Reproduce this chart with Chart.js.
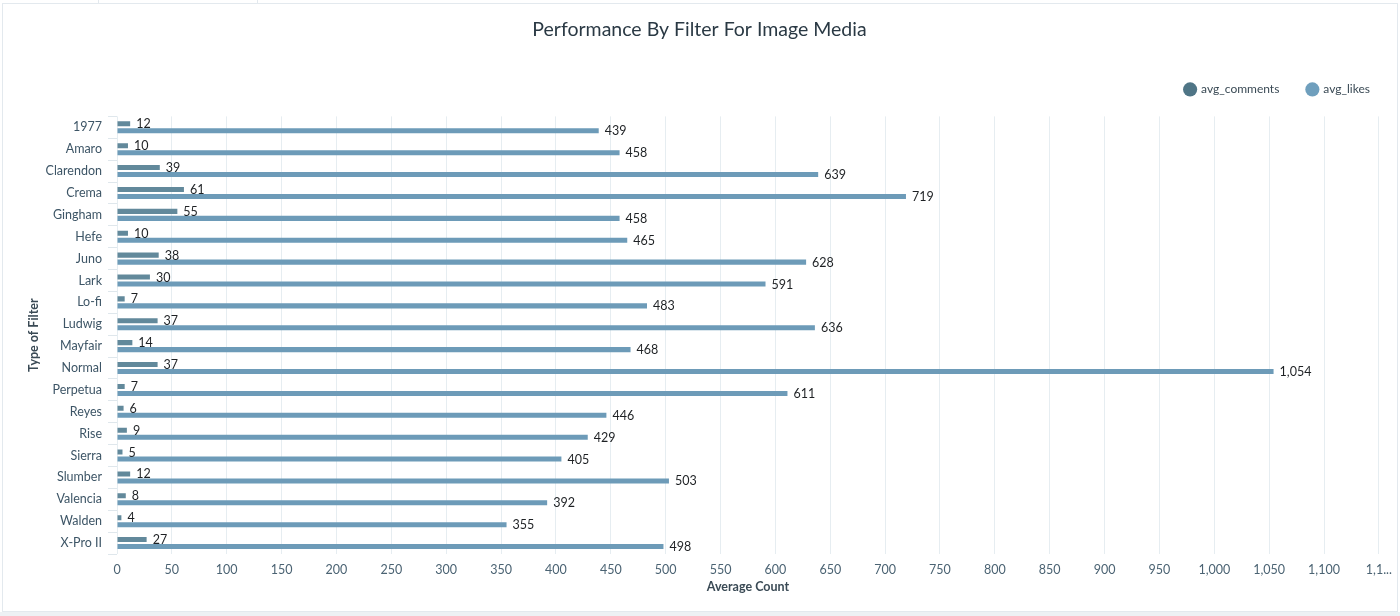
<!DOCTYPE html>
<html>
<head>
<meta charset="utf-8">
<script src="https://cdn.jsdelivr.net/npm/chart.js@4"></script>
<style>
  html, body { margin: 0; padding: 0; background: #ffffff; }
  #wrap { position: relative; width: 1400px; height: 616px; }
  canvas { display: block; }
</style>
</head>
<body>
<div id="wrap"><canvas id="c" width="1400" height="616"></canvas></div>
<script>
const categories = ["1977","Amaro","Clarendon","Crema","Gingham","Hefe","Juno","Lark","Lo-fi","Ludwig","Mayfair","Normal","Perpetua","Reyes","Rise","Sierra","Slumber","Valencia","Walden","X-Pro II"];
const avgComments = [12,10,39,61,55,10,38,30,7,37,14,37,7,6,9,5,12,8,4,27];
const avgLikes = [439,458,639,719,458,465,628,591,483,636,468,1054,611,446,429,405,503,392,355,498];
const seriesNames = ["avg_comments","avg_likes"];
const xTickMax = 1150;
const xTickStep = 50;

const FONT = "Lato, 'Open Sans', sans-serif";

const valueLabels = {
  id: 'valueLabels',
  afterDatasetsDraw(chart) {
    const ctx = chart.ctx;
    ctx.save();
    ctx.font = "12.5px " + FONT;
    ctx.fillStyle = "#1e2124";
    ctx.textAlign = "left";
    ctx.textBaseline = "middle";
    chart.data.datasets.forEach((ds, i) => {
      const meta = chart.getDatasetMeta(i);
      meta.data.forEach((bar, j) => {
        const v = ds.data[j];
        ctx.fillText(v.toLocaleString('en-US'), bar.x + 6, bar.y + 0.5);
      });
    });
    ctx.restore();
  }
};

const frame = {
  id: 'frame',
  beforeDraw(chart) {
    const ctx = chart.ctx;
    ctx.save();
    ctx.fillStyle = "#ffffff";
    ctx.fillRect(0, 0, 1400, 616);
    ctx.strokeStyle = "#e3e9ee";
    ctx.lineWidth = 1;
    ctx.strokeRect(2.5, 3.5, 1395, 608);
    ctx.fillStyle = "#edf1f4";
    ctx.fillRect(0, 612, 1400, 4);
    ctx.beginPath();
    ctx.moveTo(98.5, 0); ctx.lineTo(98.5, 3.5);
    ctx.moveTo(257.5, 0); ctx.lineTo(257.5, 3.5);
    ctx.stroke();
    ctx.restore();
  }
};

const legendFit = {
  id: 'legendFit',
  beforeInit(chart) {
    const orig = chart.legend.fit;
    chart.legend.fit = function () {
      orig.call(this);
      this.height = this.height + 11;
    };
  },
  afterLayout(chart) {
    chart.legend.right = chart.legend.right + 19;
  }
};

new Chart(document.getElementById('c'), {
  type: 'bar',
  data: {
    labels: categories,
    datasets: [
      {
        label: seriesNames[0],
        data: avgComments,
        backgroundColor: "#62899b",
        borderWidth: 0,
        categoryPercentage: 0.64,
        barPercentage: 0.72
      },
      {
        label: seriesNames[1],
        data: avgLikes,
        backgroundColor: "#6d9bb8",
        borderWidth: 0,
        categoryPercentage: 0.64,
        barPercentage: 0.72
      }
    ]
  },
  options: {
    indexAxis: 'y',
    responsive: false,
    animation: false,
    devicePixelRatio: 1,
    layout: { padding: { left: 20, right: 21, top: 0, bottom: 16 } },
    plugins: {
      title: {
        display: true,
        text: "Performance By Filter For Image Media",
        color: "#2a3944",
        font: { family: FONT, size: 19.5, weight: 'normal' },
        padding: { top: 18, bottom: 14 }
      },
      legend: {
        display: true,
        position: 'top',
        align: 'end',
        labels: {
          usePointStyle: true,
          pointStyle: 'circle',
          boxWidth: 10,
          boxHeight: 10,
          padding: 28,
          color: "#3a4a55",
          font: { family: FONT, size: 12 },
          generateLabels(chart) {
            const cols = ["#4f7586", "#6f9fbd"];
            return chart.data.datasets.map((ds, i) => ({
              text: ds.label,
              fillStyle: cols[i],
              strokeStyle: cols[i],
              lineWidth: 0,
              pointStyle: 'circle',
              datasetIndex: i,
              fontColor: "#3a4a55"
            }));
          }
        }
      },
      tooltip: { enabled: false }
    },
    scales: {
      x: {
        type: 'linear',
        min: 0,
        max: xTickMax,
        afterFit(scale) { scale.height = 46; },
        grid: {
          color: "#e6edf1",
          drawTicks: false,
          drawOnChartArea: true
        },
        border: { display: false },
        ticks: {
          stepSize: xTickStep,
          padding: 8,
          color: "#4b6373",
          font: { family: FONT, size: 12.5 },
          maxRotation: 0,
          autoSkip: false,
          callback(v) {
            if (v === xTickMax) return "1,1...";
            return Number(v).toLocaleString('en-US');
          }
        },
        title: {
          display: true,
          text: "Average Count",
          color: "#3a4a55",
          font: { family: FONT, size: 12.5, weight: 'bold' },
          padding: { top: 2, bottom: 6 }
        }
      },
      y: {
        type: 'category',
        afterFit(scale) { scale.width = 97; },
        grid: {
          offset: true,
          drawOnChartArea: false,
          drawTicks: true,
          tickLength: 9,
          color: "#dfe7ec"
        },
        border: { display: false },
        ticks: {
          padding: 6,
          color: "#3d5566",
          font: { family: FONT, size: 12.5 },
          autoSkip: false
        },
        title: {
          display: true,
          text: "Type of Filter",
          color: "#3a4a55",
          font: { family: FONT, size: 12.5, weight: 'bold' },
          padding: { top: 6, bottom: 0 }
        }
      }
    }
  },
  plugins: [frame, legendFit, valueLabels]
});
</script>
</body>
</html>
